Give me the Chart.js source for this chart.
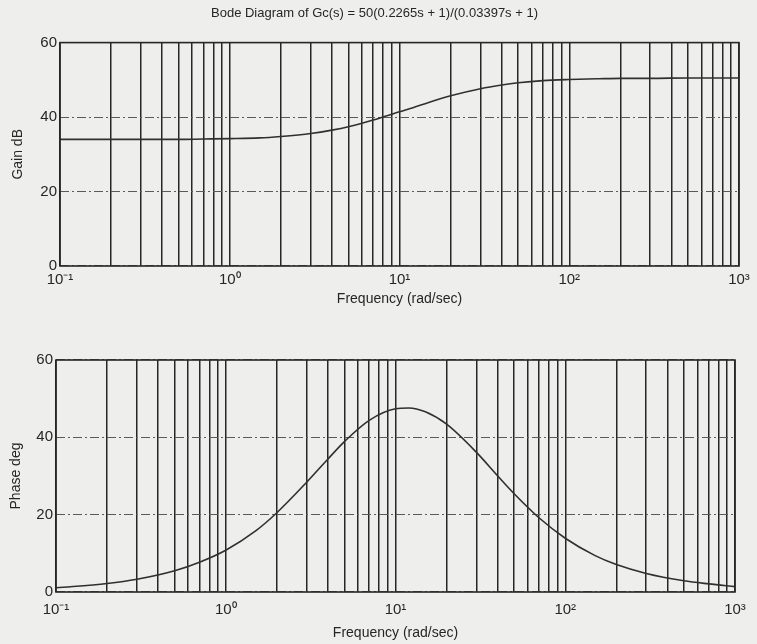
<!DOCTYPE html>
<html>
<head>
<meta charset="utf-8">
<script src="https://cdn.jsdelivr.net/npm/chart.js@4.4.1/dist/chart.umd.min.js"></script>
<style>
  html, body { margin: 0; padding: 0; background: #eeeeec; }
  body { width: 757px; height: 644px; position: relative; overflow: hidden; }
  .box { position: absolute; left: 0; width: 757px; }
  #top-box { top: 0; height: 312px; }
  #bot-box { top: 326px; height: 318px; }
</style>
</head>
<body>
<div class="box" id="top-box"><canvas id="chart-gain"></canvas></div>
<div class="box" id="bot-box"><canvas id="chart-phase"></canvas></div>
<script>
// values
const freq     = [0.1, 0.2, 0.3, 0.5, 0.7, 1, 1.5, 2, 3, 4, 5, 7, 10, 12, 15, 20, 30, 40, 50, 70, 100, 150, 200, 300, 500, 700, 1000];
const gainDb   = [34.0, 34.0, 34.0, 34.0, 34.1, 34.2, 34.4, 34.8, 35.6, 36.5, 37.4, 39.2, 41.4, 42.5, 44.0, 45.7, 47.6, 48.6, 49.2, 49.8, 50.1, 50.3, 50.4, 50.4, 50.5, 50.5, 50.5];
const phaseDeg = [1.1, 2.2, 3.3, 5.5, 7.7, 10.8, 15.8, 20.5, 28.4, 34.4, 38.9, 44.4, 47.4, 47.6, 46.6, 43.4, 36.1, 30.0, 25.4, 19.2, 13.9, 9.4, 7.1, 4.8, 2.9, 2.1, 1.4];

const decades    = [0.1, 1, 10, 100, 1000];
const decadeLbls = ['10\u207B\u00B9', '10\u2070', '10\u00B9', '10\u00B2', '10\u00B3'];
const yTicks     = [0, 20, 40, 60];

const FONT = 'Liberation Sans, Arial, sans-serif';
const INK = '#262626';

const framePlugin = {
  id: 'frame',
  afterDraw(chart) {
    const { ctx, chartArea: a } = chart;
    ctx.save();
    ctx.strokeStyle = INK;
    ctx.lineWidth = 1.6;
    ctx.strokeRect(a.left, a.top, a.right - a.left, a.bottom - a.top);
    ctx.restore();
  }
};

function logTicks(scale) {
  const t = [];
  for (let i = 0; i < decades.length - 1; i++) {
    for (let m = 1; m < 10; m++) t.push({ value: decades[i] * m });
  }
  t.push({ value: decades[decades.length - 1] });
  scale.ticks = t;
}

function makeChart(id, values, yTitle, opts) {
  return new Chart(document.getElementById(id), {
    type: 'line',
    data: {
      datasets: [{
        data: freq.map((f, i) => ({ x: f, y: values[i] })),
        borderColor: '#303030',
        borderWidth: 1.6,
        pointRadius: 0,
        cubicInterpolationMode: 'monotone',
        fill: false,
      }]
    },
    plugins: [framePlugin],
    options: {
      responsive: true,
      maintainAspectRatio: false,
      animation: false,
      layout: { padding: opts.padding },
      scales: {
        x: {
          type: 'logarithmic',
          min: 0.1, max: 1000,
          afterBuildTicks: logTicks,
          afterFit: s => { s.height = opts.xHeight; },
          ticks: {
            autoSkip: false, maxRotation: 0, padding: opts.xTickPad,
            color: INK, font: { family: FONT, size: 15 },
            callback: v => {
              const k = decades.indexOf(v);
              return k >= 0 ? decadeLbls[k] : '';
            }
          },
          grid: { color: INK, lineWidth: 1.5, drawTicks: false },
          border: { display: false },
          title: {
            display: true, text: 'Frequency (rad/sec)', color: INK,
            font: { family: FONT, size: 14 }, padding: { top: 0, bottom: 0 }
          }
        },
        y: {
          min: 0, max: 60,
          afterBuildTicks: s => { s.ticks = yTicks.map(v => ({ value: v })); },
          afterFit: s => { s.width = opts.yWidth; },
          ticks: { padding: 3, color: INK, font: { family: FONT, size: 15 } },
          grid: { color: '#5a5a5a', lineWidth: 1.1, drawTicks: false },
          border: { display: false, dash: [9, 3, 2, 3] },
          title: {
            display: true, text: yTitle, color: INK,
            font: { family: FONT, size: 14 }, padding: { top: 0, bottom: 4 }
          }
        }
      },
      plugins: {
        legend: { display: false },
        tooltip: { enabled: false },
        title: {
          display: !!opts.title, text: opts.title, color: INK,
          font: { family: FONT, size: 13, weight: 'normal' },
          padding: { top: 6, bottom: 21 }
        }
      }
    }
  });
}

makeChart('chart-gain', gainDb, 'Gain dB', {
  title: 'Bode Diagram of Gc(s) = 50(0.2265s + 1)/(0.03397s + 1)',
  padding: { left: 10, right: 18, top: 0, bottom: 4 },
  yWidth: 50, xHeight: 42, xTickPad: 5
});

makeChart('chart-phase', phaseDeg, 'Phase deg', {
  padding: { left: 8, right: 22, top: 34, bottom: 2 },
  yWidth: 48, xHeight: 50, xTickPad: 9
});
</script>
</body>
</html>
